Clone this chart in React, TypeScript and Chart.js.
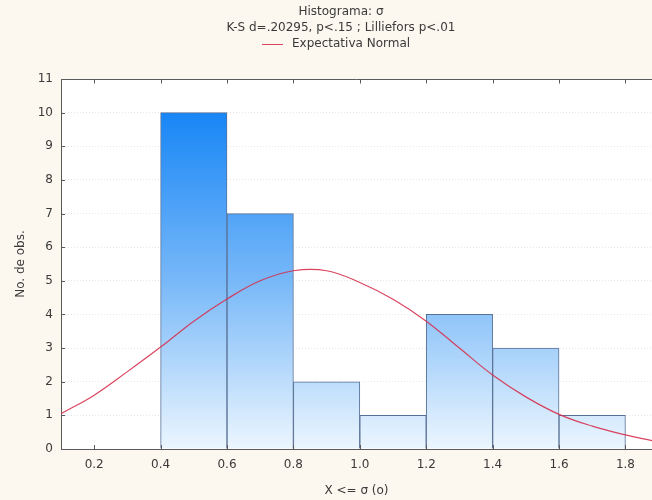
import React, { useEffect, useRef } from 'react';
import { Chart, registerables } from 'chart.js';

Chart.register(...registerables);

// ---- data ----
const binCenters = [0.5, 0.7, 0.9, 1.1, 1.3, 1.5, 1.7];
const binCounts = [10, 7, 2, 1, 4, 3, 1];
const curveX = [0.1, 0.2, 0.3, 0.4, 0.5, 0.6, 0.7, 0.8, 0.9, 1.0, 1.1, 1.2, 1.3, 1.4, 1.5, 1.6, 1.7, 1.8, 1.88];
const curveY = [1.05, 1.6, 2.3, 3.03, 3.8, 4.46, 5.0, 5.3, 5.3, 4.95, 4.45, 3.8, 3.0, 2.2, 1.55, 1.03, 0.68, 0.42, 0.25];
const xTicks = [0.2, 0.4, 0.6, 0.8, 1.0, 1.2, 1.4, 1.6, 1.8];
const titleLines = ['Histograma: σ', 'K-S d=.20295, p<.15 ; Lilliefors p<.01'];
const legendLabel = 'Expectativa Normal';
const xAxisTitle = 'X <= σ (ο)';
const yAxisTitle = 'No. de obs.';

const FONT_FAMILY = '"DejaVu Sans", "Liberation Sans", Arial, sans-serif';
const TEXT = '#3a3a3a';
const CREAM = '#fdf8ef';
const AXIS = '#5a5a5a';
const RED = 'rgba(214, 48, 78, 0.9)';

const framePlugin = {
  id: 'frame',
  beforeDraw(chart: any) {
    const { ctx, chartArea, width, height } = chart;
    ctx.save();
    ctx.fillStyle = CREAM;
    ctx.fillRect(0, 0, width, height);
    ctx.fillStyle = '#ffffff';
    ctx.fillRect(chartArea.left, chartArea.top, chartArea.right - chartArea.left, chartArea.bottom - chartArea.top);
    ctx.restore();
  },
  afterDraw(chart: any) {
    const { ctx, chartArea, scales } = chart;
    const { left, right, top, bottom } = chartArea;
    ctx.save();
    ctx.setLineDash([]);
    ctx.strokeStyle = AXIS;
    ctx.lineWidth = 1;
    // top border
    const ty = Math.round(top) + 0.5;
    ctx.beginPath();
    ctx.moveTo(left, ty);
    ctx.lineTo(right, ty);
    ctx.stroke();
    // inner tick marks
    ctx.beginPath();
    for (let v = 0; v <= 11; v++) {
      const y = Math.round(scales.y.getPixelForValue(v)) + 0.5;
      ctx.moveTo(left, y);
      ctx.lineTo(left + 4, y);
    }
    for (const v of xTicks) {
      const x = Math.round(scales.x.getPixelForValue(v)) + 0.5;
      ctx.moveTo(x, bottom);
      ctx.lineTo(x, bottom - 4);
      ctx.moveTo(x, ty);
      ctx.lineTo(x, ty + 4);
    }
    ctx.stroke();

    // titles
    const cx = 341;
    ctx.fillStyle = TEXT;
    ctx.font = `12px ${FONT_FAMILY}`;
    ctx.textAlign = 'center';
    ctx.textBaseline = 'middle';
    ctx.fillText(titleLines[0], cx, 12);
    ctx.fillText(titleLines[1], cx, 28);
    // legend
    ctx.strokeStyle = RED;
    ctx.lineWidth = 1;
    ctx.beginPath();
    ctx.moveTo(262, 44.5);
    ctx.lineTo(283, 44.5);
    ctx.stroke();
    ctx.textAlign = 'left';
    ctx.fillText(legendLabel, 292, 44);
    ctx.restore();
  },
};

export default function App() {
  const canvasRef = useRef<HTMLCanvasElement | null>(null);

  useEffect(() => {
    const canvas = canvasRef.current;
    if (!canvas) return;
    const font = { family: FONT_FAMILY, size: 12 };

    const barFill = (c: any) => {
      const chart = c.chart;
      const { chartArea, scales } = chart;
      if (!chartArea) return 'rgb(100,170,245)';
      const yTop = scales.y.getPixelForValue(10);
      const yBot = scales.y.getPixelForValue(0);
      const g = chart.ctx.createLinearGradient(0, yTop, 0, yBot);
      g.addColorStop(0, 'rgb(24, 134, 246)');
      g.addColorStop(0.5, 'rgb(120, 184, 248)');
      g.addColorStop(1, 'rgb(236, 246, 254)');
      return g;
    };

    const chart = new Chart(canvas, {
      type: 'bar',
      data: {
        datasets: [
          {
            type: 'line',
            label: legendLabel,
            data: curveX.map((x, i) => ({ x, y: curveY[i] })),
            borderColor: RED,
            borderWidth: 1.2,
            pointRadius: 0,
            tension: 0.4,
            fill: false,
            order: 0,
          } as any,
          {
            type: 'bar',
            label: 'Histograma',
            data: binCenters.map((x, i) => ({ x, y: binCounts[i] })),
            backgroundColor: barFill,
            borderColor: 'rgb(88, 112, 150)',
            borderWidth: 1,
            borderSkipped: 'bottom',
            barPercentage: 1,
            categoryPercentage: 1,
            order: 1,
          } as any,
        ],
      },
      options: {
        animation: false,
        responsive: false,
        maintainAspectRatio: false,
        layout: { padding: { top: 79, left: 0, right: 0, bottom: 0 } },
        plugins: {
          legend: { display: false },
          title: { display: false },
          tooltip: { enabled: false },
        },
        scales: {
          x: {
            type: 'linear',
            offset: false,
            min: 0.1,
            max: 1.88,
            afterBuildTicks: (s: any) => {
              s.ticks = xTicks.map((v) => ({ value: v }));
            },
            afterFit: (s: any) => {
              s.height = 51;
            },
            ticks: {
              font,
              color: TEXT,
              padding: 9,
              maxRotation: 0,
              autoSkip: false,
              callback: (v: any) => Number(v).toFixed(1),
            },
            grid: { display: false, drawTicks: false, offset: false },
            border: { display: true, color: AXIS, width: 1 },
            title: {
              display: true,
              text: xAxisTitle,
              font,
              color: TEXT,
              padding: { top: 4, bottom: 2 },
            },
          },
          y: {
            type: 'linear',
            min: 0,
            max: 11,
            afterFit: (s: any) => {
              s.width = 61;
            },
            ticks: { stepSize: 1, font, color: TEXT, padding: 8 },
            grid: { color: '#e6e6e6', drawTicks: false, lineWidth: 1 },
            border: { display: true, color: AXIS, width: 1, dash: [1, 2] },
            title: {
              display: true,
              text: yAxisTitle,
              font,
              color: TEXT,
              padding: { top: 14, bottom: 0 },
            },
          },
        },
      } as any,
      plugins: [framePlugin],
    });

    return () => chart.destroy();
  }, []);

  return (
    <div style={{ position: 'fixed', left: 0, top: 0, width: 652, height: 500, background: CREAM }}>
      <canvas ref={canvasRef} width={652} height={500} style={{ display: 'block', width: 652, height: 500 }} />
    </div>
  );
}
